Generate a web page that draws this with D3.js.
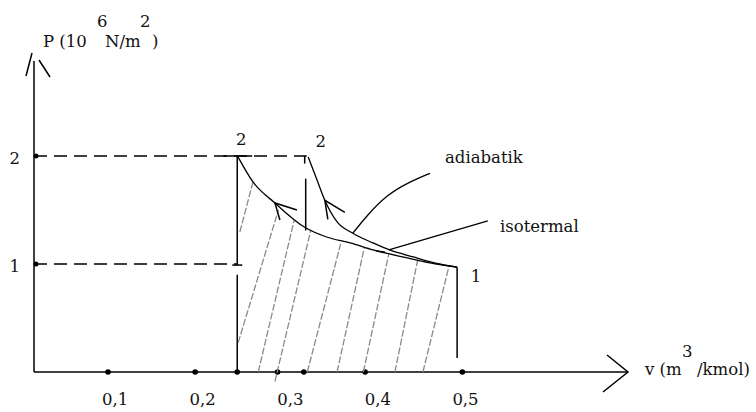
<!DOCTYPE html>
<html>
<head>
<meta charset="utf-8">
<script src="https://cdn.jsdelivr.net/npm/d3@7"></script>
<style>
  body { margin: 0; background: #fff; }
  svg { display: block; }
  text { font-family: "DejaVu Serif", serif; font-size: 16.5px; fill: #111; }
  .ink { stroke: #000; fill: none; stroke-width: 1.5; }
  .curve { stroke: #000; fill: none; stroke-width: 1.3; }
  .hatch { stroke: #8a8a8a; stroke-width: 1.3; stroke-dasharray: 7 2; }
</style>
</head>
<body>
<svg></svg>
<script>
/* global d3 */
const width = 756
const height = 412

// P-v sketch, values (v in m3/kmol, P in 10^6 N/m2)
const isoV = [0.241, 0.258, 0.283, 0.317, 0.342, 0.369, 0.395, 0.434, 0.46, 0.491]
const isoP = [1.99, 1.76, 1.565, 1.34, 1.25, 1.195, 1.13, 1.056, 1.01, 0.97]
const adiaV = [0.321, 0.331, 0.34, 0.354, 0.372, 0.395, 0.414, 0.441, 0.471, 0.491]
const adiaP = [1.99, 1.78, 1.59, 1.39, 1.285, 1.195, 1.13, 1.065, 1.0, 0.97]

const xTicks = [0.1, 0.2, 0.3, 0.4, 0.5]
const xTickLabels = ['0,1', '0,2', '0,3', '0,4', '0,5']
const yTicks = [1, 2]
const yTickLabels = ['1', '2']
const axisDots = [0.0925, 0.192, 0.24, 0.286, 0.316, 0.386, 0.497]

// hatching strokes: bottom (v0,p0) -> top (v1,p1)
const hatchV0 = [0.243, 0.241, 0.264, 0.283, 0.32, 0.354, 0.384, 0.42, 0.452]
const hatchP0 = [1.296, 0.27, 0, -0.09, 0, 0, 0, 0, 0]
const hatchV1 = [0.258, 0.287, 0.305, 0.324, 0.358, 0.385, 0.413, 0.446, 0.482]
const hatchP1 = [1.76, 1.5, 1.407, 1.315, 1.185, 1.148, 1.093, 1.037, 0.99]

// states
const v2 = 0.24
const v2a = 0.317
const v1 = 0.491
const p1 = 0.97
const p2 = 2

const svg = d3.select('svg').attr('width', width).attr('height', height)

const x = d3.scaleLinear().domain([0, 0.5]).range([27, 465])
const y = d3.scaleLinear().domain([0, 2]).range([372, 156])
const originX = 34

// axes with the sketchy arrow heads
svg.append('line').attr('class', 'ink')
  .attr('x1', originX).attr('y1', 61).attr('x2', originX).attr('y2', y(0))
svg.append('line').attr('class', 'ink')
  .attr('x1', originX).attr('y1', y(0)).attr('x2', 628).attr('y2', y(0))
svg.append('path').attr('class', 'ink').attr('d', 'M26,76L32,53M39,60L50,77')
svg.append('path').attr('class', 'ink').attr('d', 'M607,355L628,372L603,392')

const xAxis = d3.axisBottom(x)
  .tickValues(xTicks)
  .tickFormat((d, i) => xTickLabels[i])
  .tickSize(0)
  .tickPadding(21)
svg.append('g')
  .attr('transform', `translate(0,${y(0)})`)
  .call(xAxis)
  .call(g => g.select('.domain').remove())

const yAxis = d3.axisLeft(y)
  .tickValues(yTicks)
  .tickFormat((d, i) => yTickLabels[i])
  .tickSize(0)
  .tickPadding(14)
svg.append('g')
  .attr('transform', `translate(${originX},2)`)
  .call(yAxis)
  .call(g => g.select('.domain').remove())

// dots on the axes
svg.selectAll('.xdot')
  .data(axisDots)
  .join('circle')
  .attr('cx', d => x(d))
  .attr('cy', y(0))
  .attr('r', 2.8)
svg.selectAll('.ydot')
  .data(yTicks)
  .join('circle')
  .attr('cx', originX + 2)
  .attr('cy', d => y(d))
  .attr('r', 2.5)

// dashed guides
svg.append('line').attr('class', 'ink').attr('stroke-dasharray', '13 7')
  .attr('x1', originX).attr('y1', y(p2)).attr('x2', x(v2a) + 2).attr('y2', y(p2))
svg.append('line').attr('class', 'ink').attr('stroke-dasharray', '13 7')
  .attr('x1', originX).attr('y1', y(1)).attr('x2', x(v2)).attr('y2', y(1))
svg.append('line').attr('class', 'ink')
  .attr('x1', x(v2) - 14).attr('y1', y(p2)).attr('x2', x(v2) + 15).attr('y2', y(p2))

// vertical at state 2 (isothermal end)
svg.append('line').attr('class', 'ink')
  .attr('x1', x(v2)).attr('y1', y(p2)).attr('x2', x(v2)).attr('y2', y(0.99))
svg.append('line').attr('class', 'ink')
  .attr('x1', x(v2) - 5).attr('y1', y(0.99)).attr('x2', x(v2) + 5).attr('y2', y(0.99))
svg.append('line').attr('class', 'ink')
  .attr('x1', x(v2)).attr('y1', y(0.9)).attr('x2', x(v2)).attr('y2', y(0))

// vertical at state 2 (adiabatic end)
svg.append('line').attr('class', 'ink')
  .attr('x1', x(v2a)).attr('y1', y(p2)).attr('x2', x(v2a)).attr('y2', y(1.93))
svg.append('line').attr('class', 'ink')
  .attr('x1', x(v2a) + 1).attr('y1', y(1.79)).attr('x2', x(v2a) + 1).attr('y2', y(1.31))

// vertical at state 1
svg.append('line').attr('class', 'ink')
  .attr('x1', x(v1)).attr('y1', y(p1)).attr('x2', x(v1)).attr('y2', y(0.13))

// hatching of the work area
svg.selectAll('.hatch')
  .data(d3.range(hatchV0.length))
  .join('line')
  .attr('class', 'hatch')
  .attr('x1', i => x(hatchV0[i]))
  .attr('y1', i => y(hatchP0[i]))
  .attr('x2', i => x(hatchV1[i]))
  .attr('y2', i => y(hatchP1[i]))

// isothermal and adiabatic curves
const line = d3.line()
  .x(d => x(d[0]))
  .y(d => y(d[1]))
  .curve(d3.curveMonotoneX)
svg.append('path').attr('class', 'curve').attr('d', line(d3.zip(isoV, isoP)))
svg.append('path').attr('class', 'curve').attr('d', line(d3.zip(adiaV, adiaP)))

// small marker on the isotherm
svg.append('line').attr('class', 'ink').attr('stroke-width', 3)
  .attr('x1', x(0.399)).attr('y1', y(1.12)).attr('x2', x(0.409)).attr('y2', y(1.11))

// direction arrows (towards state 2)
const arrow = (v, p, down, right) => {
  const tx = x(v)
  const ty = y(p)
  return `M${tx + down[0]},${ty + down[1]}L${tx},${ty}L${tx + right[0]},${ty + right[1]}`
}
svg.append('path').attr('class', 'ink').attr('stroke-width', 2.2)
  .attr('d', arrow(isoV[2], isoP[2], [5, 17], [22, 7]))
svg.append('path').attr('class', 'ink').attr('stroke-width', 2.2)
  .attr('d', arrow(adiaV[2], adiaP[2], [3, 19], [20, 12]))

// leaders to the curve names
const leader = d3.line().x(d => x(d[0])).y(d => y(d[1])).curve(d3.curveBasis)
svg.append('path').attr('class', 'curve')
  .attr('d', leader([[0.372, 1.285], [0.388, 1.45], [0.411, 1.64], [0.434, 1.75], [0.46, 1.84]]))
svg.append('path').attr('class', 'curve')
  .attr('d', leader([[0.413, 1.13], [0.526, 1.40]]))

svg.append('text').attr('x', 445).attr('y', 163).text('adiabatik')
svg.append('text').attr('x', 500).attr('y', 232).text('isotermal')

// state labels
svg.append('text').attr('x', x(v2) + 4).attr('y', 145).attr('text-anchor', 'middle').text('2')
svg.append('text').attr('x', x(v2a) + 16).attr('y', 147).attr('text-anchor', 'middle').text('2')
svg.append('text').attr('x', x(v1) + 19).attr('y', 282).attr('text-anchor', 'middle').text('1')

// axis titles
svg.append('text').attr('x', 43).attr('y', 47).text('P (10')
svg.append('text').attr('x', 97).attr('y', 27).text('6')
svg.append('text').attr('x', 105).attr('y', 47).text('N/m')
svg.append('text').attr('x', 140).attr('y', 27).text('2')
svg.append('text').attr('x', 152).attr('y', 47).text(')')

svg.append('text').attr('x', 645).attr('y', 375).text('v (m')
svg.append('text').attr('x', 682).attr('y', 357).text('3')
svg.append('text').attr('x', 697).attr('y', 375).text('/kmol)')
</script>
</body>
</html>
